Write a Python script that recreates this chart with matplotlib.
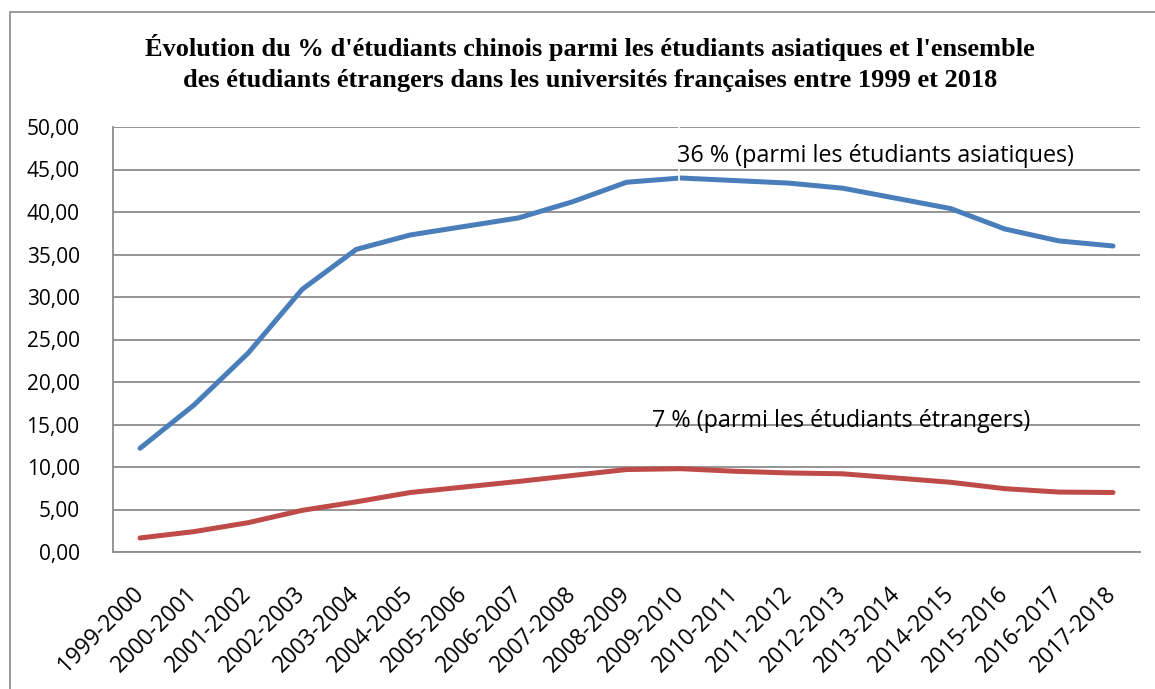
import matplotlib
matplotlib.use("Agg")

import matplotlib.pyplot as plt
import matplotlib.patches as mpatches
from matplotlib.ticker import FuncFormatter
from matplotlib.transforms import ScaledTranslation

annees = ["1999-2000", "2000-2001", "2001-2002", "2002-2003", "2003-2004",
          "2004-2005", "2005-2006", "2006-2007", "2007-2008", "2008-2009",
          "2009-2010", "2010-2011", "2011-2012", "2012-2013", "2013-2014",
          "2014-2015", "2015-2016", "2016-2017", "2017-2018"]

# % d'étudiants chinois parmi les étudiants asiatiques
asiatiques = [12.2, 17.3, 23.4, 30.9, 35.6, 37.3, 38.3, 39.3, 41.2, 43.5,
              44.0, 43.7, 43.4, 42.8, 41.6, 40.4, 38.0, 36.6, 36.0]
# % d'étudiants chinois parmi l'ensemble des étudiants étrangers
etrangers = [1.65, 2.4, 3.45, 4.9, 5.9, 7.0, 7.65, 8.3, 9.0, 9.7,
             9.8, 9.5, 9.3, 9.2, 8.7, 8.2, 7.45, 7.05, 7.0]

titre = ("Évolution du % d'étudiants chinois parmi les étudiants asiatiques et l'ensemble\n"
         "des étudiants étrangers dans les universités françaises entre 1999 et 2018")
label_asia = "36 % (parmi les étudiants asiatiques)"
label_etr = "7 % (parmi les étudiants étrangers)"

sans = "Open Sans"
grille = "#8c8c8c"

fig = plt.figure(figsize=(11.55, 6.89), dpi=100)
ax = fig.add_axes([113 / 1155, 1 - 552 / 689, (1140 - 113) / 1155, (552 - 127) / 689])

# cadre gris autour du graphique
fig.patches.append(mpatches.Rectangle((10 / 1155, -0.1), 1.2, 1.1 - 12 / 689,
                                      transform=fig.transFigure, fill=False,
                                      edgecolor="#8a8a8a", linewidth=1.2))

x = list(range(len(annees)))
ax.plot(x, asiatiques, color="#4a7ebb", linewidth=3.6, solid_capstyle="round", zorder=3)
ax.plot(x, etrangers, color="#be4b48", linewidth=3.6, solid_capstyle="round", zorder=3)

ax.set_xlim(-0.5, len(annees) - 0.5)
ax.set_ylim(0, 50)
ax.set_yticks(range(0, 51, 5))
ax.yaxis.set_major_formatter(FuncFormatter(lambda v, p: f"{v:.2f}".replace(".", ",")))
ax.grid(axis="y", color=grille, linewidth=1.3, zorder=1)
ax.set_axisbelow(True)

for s in ["top", "right"]:
    ax.spines[s].set_visible(False)
for s in ["left", "bottom"]:
    ax.spines[s].set_color(grille)
    ax.spines[s].set_linewidth(1.3)

ax.tick_params(axis="both", length=0, labelsize=15, colors="black")
ax.tick_params(axis="y", pad=24)
ax.set_xticks(x)
ax.set_xticklabels(annees, rotation=45, ha="right", va="center", rotation_mode="anchor",
                   fontsize=16.3)
ax.tick_params(axis="x", pad=28)
decal = ScaledTranslation(0, 0, fig.dpi_scale_trans)
for lab in ax.get_xticklabels():
    lab.set_transform(lab.get_transform() + decal)
for lab in ax.get_xticklabels() + ax.get_yticklabels():
    lab.set_fontfamily(sans)

# traits blancs des étiquettes (repères)
ax.plot([9.97, 9.97], [43.7, 50.6], color="white", linewidth=1.2, zorder=4, clip_on=False)
ax.plot([9.56, 9.56], [14.6, 15.4], color="white", linewidth=1.2, zorder=4)

ax.text(9.93, 46.6, label_asia, fontsize=16.8, family=sans, va="center", ha="left", zorder=5)
ax.text(9.47, 15.4, label_etr, fontsize=16.8, family=sans, va="center", ha="left", zorder=5)

fig.text(590 / 1155, 1 - 63 / 689, titre, ha="center", va="center", fontsize=19,
         family="Liberation Serif", fontweight="bold", linespacing=1.42)

fig.savefig("out.png", dpi=100)
